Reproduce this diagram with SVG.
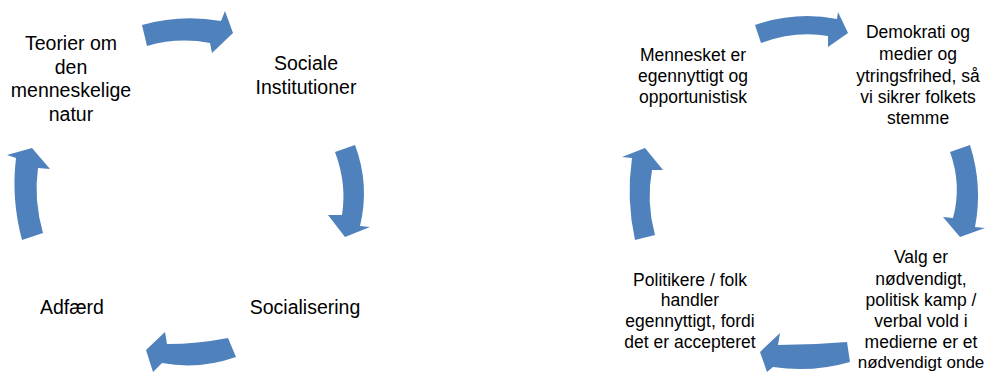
<svg xmlns="http://www.w3.org/2000/svg" width="987" height="372" viewBox="0 0 987 372">
<style>
.t{font-family:"Liberation Sans",Arial,sans-serif;fill:#000;text-anchor:middle}
.l{font-size:19.5px}
.r{font-size:17.5px}
.a{fill:#4F81BD;stroke:none}
</style>
<rect width="987" height="372" fill="#fff"/>
<g id="connectors">
<path class="a" d="M142,25 Q181,14 221,21 L225,11 L233,33 L212,53 L210,43 Q178,37 147,46 Z"/>
<path class="a" d="M355,145 Q370,185 360,226 L370,227 L345,237 L328,215 L342,215 Q347,184 335,152 Z"/>
<path class="a" d="M228,338 Q197,344 167,344 L165,332 L146,350 L153,372 L162,363 Q199,370 236,357 Z"/>
<path class="a" d="M22,240 Q11,199 16,158 L7,155 L32,148 L50,169 L38,168 Q33.5,200 43,233 Z"/>
<path class="a" d="M755,25 Q796,11 837,19 L838,12 L848,33 L828,47 L828,36 Q795,30.5 761,43 Z"/>
<path class="a" d="M970,145 Q983,186 975,227 L985,228 L960,237 L943,217 L953,218 Q962,185 950,152 Z"/>
<path class="a" d="M847,342 Q812,345 778,345 L780,333 L760,352 L767,372 L773,367 Q812,373 850,362 Z"/>
<path class="a" d="M635,240 Q626,199 632,158 L622,157 L645,148 L663,170 L652,170 Q646,202 655,235 Z"/>
</g>
<g id="teorier">
<text class="t l" x="71" y="50">Teorier om</text>
<text class="t l" x="71" y="74">den</text>
<text class="t l" x="71" y="97">menneskelige</text>
<text class="t l" x="71" y="121">natur</text>
</g>
<g id="sociale">
<text class="t l" x="306" y="70">Sociale</text>
<text class="t l" x="306" y="94">Institutioner</text>
</g>
<g id="socialisering">
<text class="t l" x="305" y="314">Socialisering</text>
</g>
<g id="adfaerd">
<text class="t l" x="72" y="314">Adfærd</text>
</g>
<g id="mennesket">
<text class="t r" x="693" y="61">Mennesket er</text>
<text class="t r" x="693" y="82">egennyttigt og</text>
<text class="t r" x="693" y="103">opportunistisk</text>
</g>
<g id="demokrati">
<text class="t r" x="918" y="38">Demokrati og</text>
<text class="t r" x="918" y="60">medier og</text>
<text class="t r" x="918" y="82">ytringsfrihed, så</text>
<text class="t r" x="918" y="103">vi sikrer folkets</text>
<text class="t r" x="918" y="124">stemme</text>
</g>
<g id="valg">
<text class="t r" x="921" y="263">Valg er</text>
<text class="t r" x="921" y="285">nødvendigt,</text>
<text class="t r" x="921" y="306">politisk kamp /</text>
<text class="t r" x="921" y="327">verbal vold i</text>
<text class="t r" x="921" y="348">medierne er et</text>
<text class="t r" x="921" y="368" style="font-size:17px">nødvendigt onde</text>
</g>
<g id="politikere">
<text class="t r" x="690" y="286">Politikere / folk</text>
<text class="t r" x="690" y="306">handler</text>
<text class="t r" x="690" y="327">egennyttigt, fordi</text>
<text class="t r" x="690" y="348">det er accepteret</text>
</g>
</svg>
